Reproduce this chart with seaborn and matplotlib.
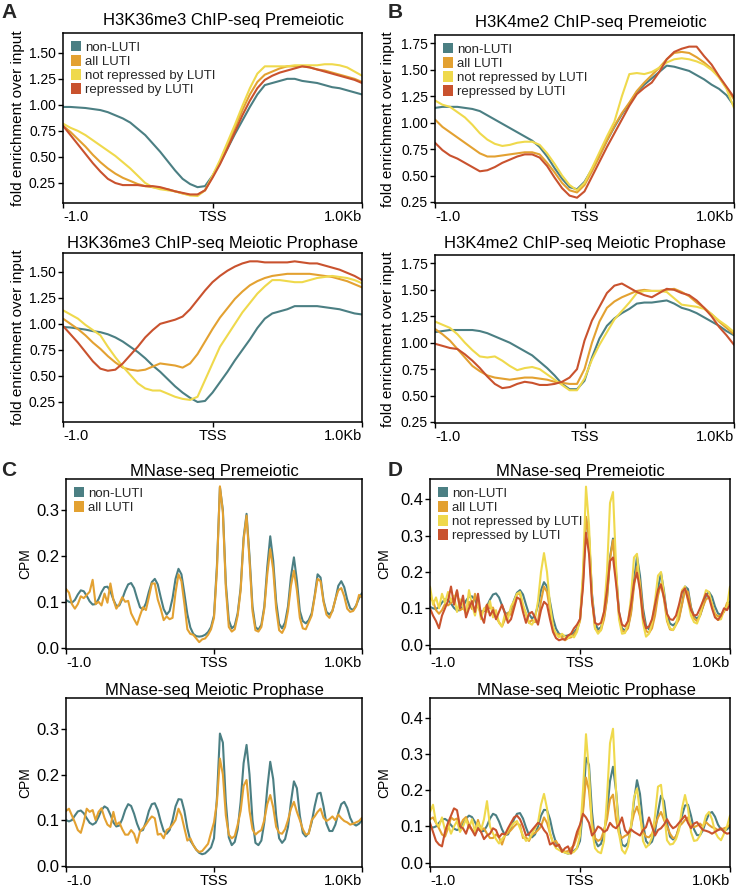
import numpy as np
import pandas as pd
import matplotlib
matplotlib.use("Agg")
import matplotlib.pyplot as plt
import seaborn as sns
from matplotlib.patches import Patch
from matplotlib.transforms import ScaledTranslation

sns.set_theme(style="ticks")
plt.rcParams["font.family"] = ["Liberation Sans", "DejaVu Sans"]

W, H = 745, 889

groups = ["non-LUTI", "all LUTI", "not repressed by LUTI", "repressed by LUTI"]
colors = {
    "non-LUTI": "#4b7f83",
    "all LUTI": "#e3a131",
    "not repressed by LUTI": "#efd94c",
    "repressed by LUTI": "#c9522e",
}

# bin centres (bp from TSS)
chip_bp = np.arange(-1000, 1001, 50)
mnase_bp = np.arange(-1000, 1001, 20)

# ---- H3K36me3 ChIP-seq, fold enrichment over input ----
k36_pre_non = [0.98, 0.98, 0.975, 0.97, 0.96, 0.95, 0.93, 0.90, 0.87, 0.83,
               0.77, 0.71, 0.63, 0.55, 0.46, 0.37, 0.29, 0.24, 0.21, 0.22,
               0.32, 0.44, 0.58, 0.72, 0.85, 0.98, 1.10, 1.19, 1.21, 1.23,
               1.25, 1.25, 1.23, 1.22, 1.21, 1.19, 1.17, 1.16, 1.14, 1.12,
               1.10]
k36_pre_all = [0.80, 0.74, 0.67, 0.60, 0.52, 0.45, 0.39, 0.34, 0.30, 0.27,
               0.24, 0.22, 0.21, 0.20, 0.19, 0.17, 0.15, 0.135, 0.135, 0.18,
               0.31, 0.45, 0.61, 0.78, 0.95, 1.10, 1.22, 1.29, 1.32, 1.35,
               1.37, 1.37, 1.37, 1.36, 1.34, 1.33, 1.31, 1.29, 1.27, 1.25,
               1.22]
k36_pre_notrep = [0.82, 0.78, 0.75, 0.71, 0.66, 0.61, 0.56, 0.51, 0.45, 0.39,
                  0.32, 0.25, 0.21, 0.19, 0.18, 0.17, 0.15, 0.13, 0.125, 0.18,
                  0.32, 0.47, 0.64, 0.81, 0.99, 1.16, 1.30, 1.37, 1.37, 1.37,
                  1.37, 1.38, 1.38, 1.38, 1.38, 1.39, 1.39, 1.38, 1.36, 1.32,
                  1.28]
k36_pre_rep = [0.80, 0.71, 0.62, 0.53, 0.44, 0.36, 0.29, 0.25, 0.23, 0.23,
               0.23, 0.22, 0.22, 0.21, 0.19, 0.17, 0.155, 0.14, 0.14, 0.18,
               0.30, 0.43, 0.58, 0.74, 0.90, 1.04, 1.16, 1.24, 1.28, 1.31,
               1.33, 1.35, 1.37, 1.36, 1.34, 1.32, 1.30, 1.28, 1.26, 1.24,
               1.21]

k36_mei_non = [0.97, 0.965, 0.955, 0.945, 0.93, 0.92, 0.90, 0.87, 0.83, 0.78,
               0.73, 0.67, 0.60, 0.54, 0.47, 0.40, 0.34, 0.29, 0.25, 0.26,
               0.34, 0.44, 0.54, 0.65, 0.75, 0.85, 0.96, 1.05, 1.10, 1.12,
               1.14, 1.17, 1.17, 1.17, 1.17, 1.16, 1.15, 1.14, 1.12, 1.10,
               1.09]
k36_mei_all = [1.05, 1.00, 0.95, 0.89, 0.82, 0.76, 0.69, 0.63, 0.58, 0.56,
               0.55, 0.56, 0.59, 0.62, 0.61, 0.60, 0.58, 0.62, 0.71, 0.83,
               0.95, 1.06, 1.15, 1.24, 1.31, 1.37, 1.41, 1.44, 1.46, 1.47,
               1.48, 1.48, 1.48, 1.48, 1.47, 1.46, 1.45, 1.43, 1.41, 1.38,
               1.35]
k36_mei_notrep = [1.13, 1.09, 1.05, 0.99, 0.94, 0.89, 0.78, 0.68, 0.59, 0.51,
                  0.43, 0.38, 0.36, 0.36, 0.33, 0.30, 0.28, 0.27, 0.30, 0.46,
                  0.62, 0.78, 0.89, 1.00, 1.11, 1.20, 1.29, 1.36, 1.42, 1.42,
                  1.41, 1.40, 1.40, 1.42, 1.44, 1.45, 1.46, 1.45, 1.44, 1.42,
                  1.39]
k36_mei_rep = [0.98, 0.90, 0.82, 0.73, 0.64, 0.57, 0.55, 0.56, 0.62, 0.70,
               0.78, 0.87, 0.94, 1.00, 1.02, 1.04, 1.07, 1.14, 1.23, 1.32,
               1.40, 1.46, 1.51, 1.55, 1.58, 1.60, 1.60, 1.59, 1.59, 1.59,
               1.59, 1.60, 1.59, 1.58, 1.58, 1.56, 1.54, 1.52, 1.49, 1.46,
               1.42]

# ---- H3K4me2 ChIP-seq ----
k4_pre_non = [1.14, 1.15, 1.15, 1.15, 1.14, 1.13, 1.11, 1.07, 1.03, 0.99,
              0.95, 0.91, 0.87, 0.83, 0.77, 0.68, 0.57, 0.47, 0.39, 0.37,
              0.44, 0.56, 0.69, 0.83, 0.96, 1.08, 1.18, 1.29, 1.36, 1.42,
              1.48, 1.54, 1.53, 1.51, 1.49, 1.45, 1.41, 1.36, 1.32, 1.26,
              1.16]
k4_pre_all = [1.03, 0.96, 0.91, 0.86, 0.81, 0.76, 0.71, 0.68, 0.68, 0.69,
              0.70, 0.71, 0.72, 0.72, 0.70, 0.62, 0.53, 0.43, 0.36, 0.34,
              0.41, 0.54, 0.68, 0.83, 0.97, 1.09, 1.19, 1.30, 1.38, 1.45,
              1.52, 1.60, 1.66, 1.67, 1.66, 1.62, 1.57, 1.51, 1.43, 1.33,
              1.22]
k4_pre_notrep = [1.21, 1.17, 1.15, 1.10, 1.05, 0.98, 0.90, 0.84, 0.80, 0.78,
                 0.79, 0.81, 0.82, 0.82, 0.79, 0.71, 0.61, 0.50, 0.41, 0.36,
                 0.43, 0.57, 0.72, 0.87, 1.01, 1.25, 1.46, 1.47, 1.46, 1.48,
                 1.52, 1.57, 1.60, 1.61, 1.60, 1.58, 1.55, 1.50, 1.43, 1.32,
                 1.14]
k4_pre_rep = [0.81, 0.74, 0.69, 0.66, 0.62, 0.58, 0.54, 0.55, 0.58, 0.62,
              0.65, 0.68, 0.70, 0.70, 0.67, 0.59, 0.48, 0.38, 0.31, 0.29,
              0.35, 0.49, 0.63, 0.77, 0.90, 1.03, 1.16, 1.27, 1.33, 1.38,
              1.48, 1.60, 1.67, 1.70, 1.72, 1.72, 1.63, 1.55, 1.44, 1.34,
              1.24]

k4_mei_non = [1.10, 1.11, 1.12, 1.12, 1.12, 1.12, 1.11, 1.09, 1.06, 1.03,
              1.00, 0.96, 0.92, 0.88, 0.82, 0.76, 0.69, 0.61, 0.56, 0.56,
              0.64, 0.86, 1.04, 1.16, 1.23, 1.28, 1.32, 1.37, 1.38, 1.38,
              1.39, 1.40, 1.37, 1.33, 1.31, 1.28, 1.24, 1.20, 1.16, 1.11,
              1.07]
k4_mei_all = [1.13, 1.08, 1.02, 0.94, 0.86, 0.78, 0.73, 0.69, 0.67, 0.66,
              0.65, 0.66, 0.67, 0.67, 0.66, 0.65, 0.63, 0.62, 0.61, 0.61,
              0.75, 1.00, 1.20, 1.33, 1.39, 1.43, 1.46, 1.49, 1.50, 1.49,
              1.49, 1.50, 1.51, 1.48, 1.44, 1.38, 1.33, 1.27, 1.20, 1.14,
              1.08]
k4_mei_notrep = [1.20, 1.17, 1.14, 1.08, 1.00, 0.93, 0.87, 0.86, 0.87, 0.83,
                 0.78, 0.74, 0.76, 0.77, 0.75, 0.70, 0.65, 0.60, 0.55, 0.55,
                 0.66, 0.84, 0.98, 1.10, 1.22, 1.30, 1.38, 1.47, 1.49, 1.49,
                 1.49, 1.48, 1.42, 1.36, 1.35, 1.34, 1.32, 1.27, 1.21, 1.16,
                 1.10]
k4_mei_rep = [0.99, 0.97, 0.95, 0.94, 0.89, 0.83, 0.76, 0.68, 0.61, 0.57,
              0.58, 0.61, 0.63, 0.62, 0.60, 0.60, 0.61, 0.63, 0.67, 0.75,
              1.02, 1.21, 1.34, 1.47, 1.54, 1.56, 1.52, 1.48, 1.45, 1.43,
              1.47, 1.51, 1.50, 1.47, 1.45, 1.40, 1.33, 1.25, 1.15, 1.07,
              0.98]

# ---- MNase-seq, CPM ----
mn_pre_non = [0.104, 0.100, 0.098, 0.104, 0.116, 0.125, 0.123, 0.113, 0.101, 0.094,
              0.095, 0.106, 0.121, 0.132, 0.133, 0.123, 0.105, 0.091, 0.092, 0.106,
              0.124, 0.138, 0.141, 0.130, 0.108, 0.088, 0.083, 0.097, 0.122, 0.143,
              0.150, 0.138, 0.110, 0.084, 0.072, 0.080, 0.108, 0.150, 0.172, 0.160,
              0.118, 0.073, 0.044, 0.030, 0.025, 0.024, 0.025, 0.028, 0.034, 0.045,
              0.070, 0.180, 0.350, 0.300, 0.140, 0.060, 0.042, 0.048, 0.075, 0.130,
              0.240, 0.292, 0.200, 0.090, 0.045, 0.039, 0.050, 0.090, 0.176, 0.243,
              0.190, 0.100, 0.052, 0.042, 0.055, 0.090, 0.155, 0.197, 0.147, 0.080,
              0.058, 0.053, 0.060, 0.075, 0.113, 0.160, 0.153, 0.103, 0.078, 0.072,
              0.080, 0.105, 0.135, 0.145, 0.132, 0.105, 0.086, 0.082, 0.092, 0.108,
              0.119]
mn_pre_all = [0.128, 0.120, 0.095, 0.085, 0.095, 0.112, 0.108, 0.115, 0.122, 0.148,
              0.095, 0.100, 0.092, 0.118, 0.098, 0.140, 0.105, 0.085, 0.095, 0.110,
              0.100, 0.102, 0.075, 0.062, 0.050, 0.070, 0.088, 0.082, 0.110, 0.140,
              0.140, 0.105, 0.085, 0.060, 0.068, 0.062, 0.065, 0.120, 0.160, 0.145,
              0.095, 0.040, 0.030, 0.028, 0.020, 0.012, 0.018, 0.020, 0.028, 0.040,
              0.065, 0.170, 0.352, 0.295, 0.130, 0.045, 0.035, 0.040, 0.070, 0.125,
              0.235, 0.288, 0.190, 0.080, 0.038, 0.035, 0.045, 0.085, 0.160, 0.215,
              0.170, 0.085, 0.038, 0.032, 0.045, 0.080, 0.135, 0.168, 0.125, 0.065,
              0.042, 0.040, 0.055, 0.070, 0.110, 0.150, 0.145, 0.100, 0.072, 0.065,
              0.080, 0.105, 0.125, 0.130, 0.112, 0.085, 0.078, 0.080, 0.090, 0.115,
              0.110]
mn_pre_notrep = [0.160, 0.110, 0.130, 0.100, 0.140, 0.115, 0.145, 0.120, 0.135, 0.090,
                 0.125, 0.105, 0.085, 0.150, 0.110, 0.080, 0.120, 0.070, 0.100, 0.090,
                 0.120, 0.075, 0.095, 0.060, 0.050, 0.085, 0.070, 0.105, 0.120, 0.140,
                 0.145, 0.110, 0.085, 0.060, 0.055, 0.070, 0.120, 0.200, 0.252, 0.200,
                 0.110, 0.050, 0.030, 0.020, 0.030, 0.022, 0.018, 0.025, 0.020, 0.035,
                 0.070, 0.200, 0.435, 0.330, 0.130, 0.045, 0.030, 0.040, 0.090, 0.200,
                 0.390, 0.420, 0.220, 0.070, 0.030, 0.032, 0.060, 0.130, 0.240, 0.250,
                 0.150, 0.060, 0.022, 0.030, 0.060, 0.120, 0.190, 0.200, 0.140, 0.070,
                 0.045, 0.040, 0.055, 0.095, 0.150, 0.160, 0.120, 0.080, 0.062, 0.058,
                 0.080, 0.120, 0.150, 0.145, 0.110, 0.080, 0.068, 0.070, 0.095, 0.105,
                 0.160]
mn_pre_rep = [0.100, 0.080, 0.065, 0.045, 0.080, 0.100, 0.120, 0.160, 0.110, 0.150,
              0.100, 0.135, 0.075, 0.100, 0.120, 0.090, 0.140, 0.080, 0.060, 0.110,
              0.080, 0.095, 0.070, 0.090, 0.110, 0.085, 0.060, 0.070, 0.100, 0.130,
              0.125, 0.090, 0.060, 0.085, 0.090, 0.075, 0.055, 0.095, 0.118, 0.110,
              0.070, 0.035, 0.018, 0.012, 0.015, 0.014, 0.025, 0.030, 0.045, 0.055,
              0.070, 0.160, 0.308, 0.250, 0.120, 0.060, 0.055, 0.060, 0.090, 0.150,
              0.230, 0.240, 0.170, 0.090, 0.055, 0.050, 0.065, 0.110, 0.170, 0.198,
              0.150, 0.075, 0.045, 0.050, 0.070, 0.110, 0.150, 0.165, 0.130, 0.085,
              0.070, 0.068, 0.080, 0.110, 0.145, 0.155, 0.125, 0.095, 0.080, 0.082,
              0.100, 0.120, 0.140, 0.130, 0.100, 0.075, 0.068, 0.080, 0.100, 0.095,
              0.110]

mn_mei_non = [0.100, 0.097, 0.100, 0.110, 0.119, 0.121, 0.115, 0.104, 0.094, 0.090,
              0.094, 0.107, 0.122, 0.130, 0.126, 0.112, 0.095, 0.086, 0.088, 0.102,
              0.122, 0.135, 0.131, 0.114, 0.092, 0.076, 0.078, 0.096, 0.120, 0.135,
              0.137, 0.122, 0.097, 0.076, 0.070, 0.078, 0.100, 0.130, 0.146, 0.145,
              0.120, 0.082, 0.055, 0.045, 0.035, 0.028, 0.025, 0.027, 0.033, 0.040,
              0.060, 0.150, 0.290, 0.270, 0.140, 0.062, 0.045, 0.052, 0.080, 0.140,
              0.225, 0.265, 0.200, 0.100, 0.050, 0.045, 0.055, 0.095, 0.170, 0.228,
              0.190, 0.110, 0.060, 0.050, 0.058, 0.085, 0.140, 0.185, 0.170, 0.110,
              0.072, 0.064, 0.072, 0.095, 0.130, 0.158, 0.160, 0.130, 0.092, 0.076,
              0.076, 0.090, 0.115, 0.135, 0.140, 0.127, 0.105, 0.092, 0.088, 0.092,
              0.100]
mn_mei_all = [0.120, 0.125, 0.110, 0.095, 0.078, 0.072, 0.095, 0.125, 0.118, 0.122,
              0.100, 0.118, 0.126, 0.105, 0.090, 0.085, 0.118, 0.090, 0.095, 0.080,
              0.068, 0.068, 0.078, 0.070, 0.050, 0.075, 0.082, 0.090, 0.100, 0.108,
              0.104, 0.068, 0.070, 0.060, 0.078, 0.082, 0.090, 0.100, 0.125, 0.110,
              0.082, 0.055, 0.060, 0.045, 0.035, 0.030, 0.032, 0.040, 0.048, 0.072,
              0.095, 0.140, 0.235, 0.200, 0.110, 0.068, 0.060, 0.065, 0.090, 0.120,
              0.175, 0.188, 0.120, 0.080, 0.068, 0.074, 0.078, 0.100, 0.135, 0.155,
              0.128, 0.085, 0.072, 0.070, 0.080, 0.100, 0.125, 0.140, 0.118, 0.100,
              0.080, 0.068, 0.070, 0.100, 0.108, 0.118, 0.125, 0.105, 0.098, 0.102,
              0.108, 0.100, 0.112, 0.104, 0.098, 0.095, 0.090, 0.092, 0.095, 0.098,
              0.105]
mn_mei_notrep = [0.140, 0.160, 0.110, 0.100, 0.125, 0.090, 0.105, 0.080, 0.100, 0.115,
                 0.085, 0.100, 0.120, 0.095, 0.120, 0.085, 0.110, 0.090, 0.120, 0.170,
                 0.100, 0.080, 0.065, 0.053, 0.065, 0.075, 0.090, 0.100, 0.110, 0.115,
                 0.095, 0.075, 0.060, 0.065, 0.080, 0.095, 0.110, 0.160, 0.190, 0.150,
                 0.080, 0.055, 0.040, 0.035, 0.030, 0.028, 0.025, 0.026, 0.030, 0.040,
                 0.075, 0.200, 0.355, 0.250, 0.090, 0.040, 0.030, 0.026, 0.060, 0.180,
                 0.330, 0.370, 0.200, 0.080, 0.035, 0.025, 0.045, 0.100, 0.180, 0.205,
                 0.140, 0.060, 0.042, 0.050, 0.070, 0.130, 0.210, 0.215, 0.140, 0.062,
                 0.050, 0.052, 0.065, 0.090, 0.150, 0.187, 0.150, 0.085, 0.060, 0.062,
                 0.075, 0.100, 0.130, 0.140, 0.120, 0.085, 0.070, 0.062, 0.080, 0.100,
                 0.130]
mn_mei_rep = [0.110, 0.085, 0.060, 0.050, 0.045, 0.085, 0.110, 0.130, 0.150, 0.145,
              0.100, 0.095, 0.080, 0.105, 0.090, 0.075, 0.095, 0.085, 0.065, 0.075,
              0.080, 0.095, 0.090, 0.070, 0.080, 0.078, 0.095, 0.110, 0.125, 0.130,
              0.120, 0.100, 0.075, 0.080, 0.090, 0.100, 0.110, 0.105, 0.090, 0.080,
              0.050, 0.055, 0.045, 0.050, 0.030, 0.040, 0.045, 0.025, 0.055, 0.085,
              0.105, 0.135, 0.125, 0.110, 0.075, 0.085, 0.100, 0.095, 0.085, 0.090,
              0.110, 0.100, 0.095, 0.105, 0.125, 0.090, 0.080, 0.092, 0.085, 0.080,
              0.075, 0.090, 0.098, 0.125, 0.100, 0.075, 0.090, 0.095, 0.105, 0.120,
              0.105, 0.095, 0.100, 0.110, 0.120, 0.130, 0.110, 0.095, 0.108, 0.112,
              0.100, 0.090, 0.088, 0.085, 0.080, 0.085, 0.090, 0.095, 0.085, 0.080,
              0.082]

fig = plt.figure(figsize=(W / 100, H / 100), dpi=100)


def panel(box, title, bp, series, ylim, yticks, yfmt, ylabel, ysize, labelpad,
          title_pad, title_x=0.5, legend=False):
    left, top, right, bottom = box
    ax = fig.add_axes([left / W, 1 - bottom / H, (right - left) / W, (bottom - top) / H])
    names = [g for g, _ in series]
    df = pd.concat([pd.DataFrame({"bp": bp, "value": v, "group": g}) for g, v in series])
    sns.lineplot(data=df, x="bp", y="value", hue="group", hue_order=names,
                 palette=colors, linewidth=1.5, errorbar=None, legend=False, ax=ax)

    ax.set_xlim(-1000, 1000)
    ax.set_ylim(*ylim)
    ax.set_xticks([-1000, 0, 1000])
    ax.set_xticklabels(["-1.0", "TSS", "1.0Kb"], fontsize=10.5)
    xl = ax.get_xticklabels()
    xl[0].set_ha("left")
    xl[2].set_ha("right")
    xl[2].set_transform(xl[2].get_transform() + ScaledTranslation(0.1, 0, fig.dpi_scale_trans))
    ax.set_yticks(yticks)
    ax.set_yticklabels([yfmt.format(t) for t in yticks], fontsize=ysize)
    ax.set_xlabel("")
    ax.set_ylabel(ylabel, fontsize=11 if ylabel != "CPM" else 10, labelpad=labelpad, color="black")
    ax.set_title(title, fontsize=12, pad=title_pad, x=title_x, color="black")
    ax.tick_params(direction="out", length=3.5, width=1, colors="black", pad=1.5)
    for s in ax.spines.values():
        s.set_visible(True)
        s.set_color("black")
        s.set_linewidth(1.1)
    ax.grid(False)
    if legend:
        handles = [Patch(facecolor=colors[g], edgecolor="none", label=g) for g in names]
        ax.legend(handles=handles, loc="upper left", frameon=False, fontsize=9.5,
                  handlelength=0.8, handleheight=0.85, handletextpad=0.25,
                  labelspacing=0.1, borderaxespad=0.35, borderpad=0.25)
    return ax


chip_lab = "fold enrichment over input"
k36_ticks = [0.25, 0.50, 0.75, 1.00, 1.25, 1.50]
k4_ticks = [0.25, 0.50, 0.75, 1.00, 1.25, 1.50, 1.75]

panel((63, 33, 362, 203), "H3K36me3 ChIP-seq Premeiotic", chip_bp,
      list(zip(groups, [k36_pre_non, k36_pre_all, k36_pre_notrep, k36_pre_rep])),
      (0.058, 1.69), k36_ticks, "{:.2f}", chip_lab, 10, 3, 5.5, title_x=0.536, legend=True)
panel((63, 253, 362, 422), "H3K36me3 ChIP-seq Meiotic Prophase", chip_bp,
      list(zip(groups, [k36_mei_non, k36_mei_all, k36_mei_notrep, k36_mei_rep])),
      (0.058, 1.68), k36_ticks, "{:.2f}", chip_lab, 10, 3, 3.5)
panel((435, 35, 734, 203), "H3K4me2 ChIP-seq Premeiotic", chip_bp,
      list(zip(groups, [k4_pre_non, k4_pre_all, k4_pre_notrep, k4_pre_rep])),
      (0.24, 1.83), k4_ticks, "{:.2f}", chip_lab, 10, 4, 5.5, title_x=0.52, legend=True)
panel((435, 255, 734, 423), "H3K4me2 ChIP-seq Meiotic Prophase", chip_bp,
      list(zip(groups, [k4_mei_non, k4_mei_all, k4_mei_notrep, k4_mei_rep])),
      (0.24, 1.83), k4_ticks, "{:.2f}", chip_lab, 10, 4, 5)

mn_ticks_c = [0.0, 0.1, 0.2, 0.3]
mn_ticks_d = [0.0, 0.1, 0.2, 0.3, 0.4]
panel((66, 479, 362, 649), "MNase-seq Premeiotic", mnase_bp,
      list(zip(groups[:2], [mn_pre_non, mn_pre_all])),
      (-0.003, 0.368), mn_ticks_c, "{:.1f}", "CPM", 12, 3, 2, legend=True)
panel((66, 698, 362, 867), "MNase-seq Meiotic Prophase", mnase_bp,
      list(zip(groups[:2], [mn_mei_non, mn_mei_all])),
      (-0.003, 0.368), mn_ticks_c, "{:.1f}", "CPM", 12, 3, 2)
panel((430, 479, 730, 649), "MNase-seq Premeiotic", mnase_bp,
      list(zip(groups, [mn_pre_non, mn_pre_all, mn_pre_notrep, mn_pre_rep])),
      (-0.012, 0.456), mn_ticks_d, "{:.1f}", "CPM", 12, 6, 2, legend=True)
panel((430, 698, 730, 867), "MNase-seq Meiotic Prophase", mnase_bp,
      list(zip(groups, [mn_mei_non, mn_mei_all, mn_mei_notrep, mn_mei_rep])),
      (-0.012, 0.455), mn_ticks_d, "{:.1f}", "CPM", 12, 6, 2, title_x=0.523)

for letter, (px, py) in {"A": (1, 3), "B": (388, 3), "C": (1, 461), "D": (388, 461)}.items():
    fig.text(px / W, 1 - py / H, letter, fontsize=15, fontweight="bold", va="top", ha="left")

fig.savefig("out.png", dpi=100)
